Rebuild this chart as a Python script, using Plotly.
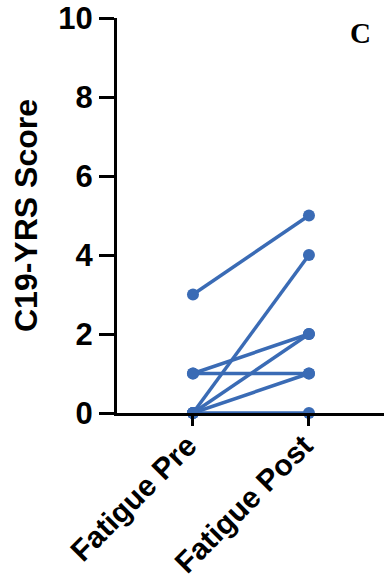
import plotly.graph_objects as go

categories = ["Fatigue Pre", "Fatigue Post"]
pre_scores = [3, 1, 1, 0, 0, 0, 0]
post_scores = [5, 2, 1, 4, 2, 1, 0]
y_ticks = [0, 2, 4, 6, 8, 10]

color = "#3A6BB5"
fig = go.Figure()
for a, b in zip(pre_scores, post_scores):
    fig.add_trace(go.Scatter(
        x=[0, 1], y=[a, b], mode="lines+markers",
        line=dict(color=color, width=3.5),
        marker=dict(color=color, size=12),
        cliponaxis=False, showlegend=False, hoverinfo="y"))

font = "Liberation Sans, Arial, sans-serif"
fig.update_layout(
    width=384, height=583,
    margin=dict(l=117, r=0, t=18, b=170),
    plot_bgcolor="white", paper_bgcolor="white",
    font=dict(family=font, color="black"),
    xaxis=dict(
        range=[-0.655, 1.647], tickvals=[0, 1], ticktext=[f"<b>{c}</b>" for c in categories],
        tickangle=-45, ticks="outside", ticklen=10, tickwidth=3, tickcolor="black",
        showline=True, linewidth=3, linecolor="black", showgrid=False, zeroline=False,
        tickfont=dict(size=30, family=font, color="black"), automargin=False,
        ticklabelstandoff=-10, ticklabelshift=-5,
    ),
    yaxis=dict(
        range=[0, 10], tickvals=y_ticks, ticktext=[f"<b>{t}</b>" for t in y_ticks],
        ticks="outside", ticklen=15, tickwidth=3, tickcolor="black",
        showline=True, linewidth=3, linecolor="black", showgrid=False, zeroline=False,
        tickfont=dict(size=31, family=font, color="black"), automargin=False,
        title=dict(text="<b>C19-YRS Score</b>", font=dict(size=32, family=font, color="black"), standoff=12),
    ),
    annotations=[dict(
        text="<b>C</b>", x=360, y=33, xref="paper", yref="paper", showarrow=False,
        font=dict(family="Liberation Serif, Times New Roman, serif", size=29, color="black"),
    )],
)
pw, ph = 384 - 117 - 0, 583 - 18 - 170
fig.layout.annotations[0].x = (360 - 117) / pw
fig.layout.annotations[0].y = (583 - 170 - 33) / ph
fig.layout.annotations[0].xanchor = "center"
fig.layout.annotations[0].yanchor = "middle"

fig.write_html("out.html")
